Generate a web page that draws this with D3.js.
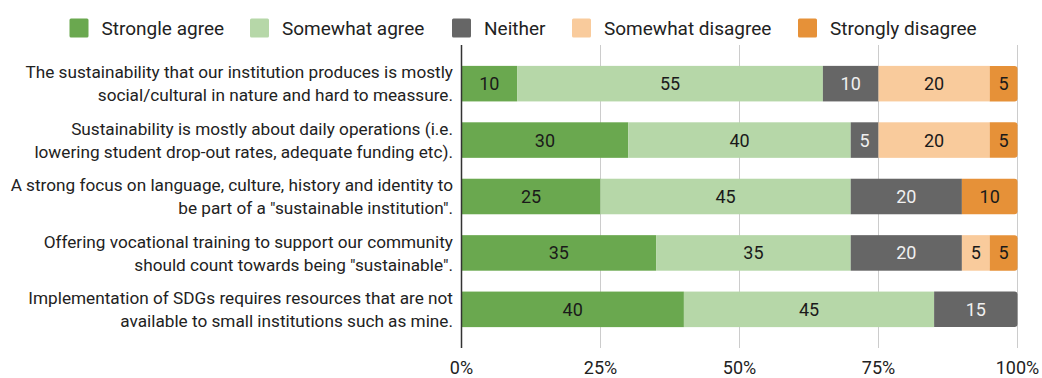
<!DOCTYPE html>
<html>
<head>
<meta charset="utf-8">
<script src="https://cdn.jsdelivr.net/npm/d3@7"></script>
<style>
  html, body { margin: 0; padding: 0; background: #fff; }
  svg { display: block; font-family: Roboto, "Noto Sans", sans-serif; }
</style>
</head>
<body>
<svg id="chart" width="1042" height="378"></svg>
<script>
// Survey statements (two-line labels)
const statements = [
  ["The sustainability that our institution produces is mostly", "social/cultural in nature and hard to meassure."],
  ["Sustainability is mostly about daily operations (i.e.", "lowering student drop-out rates, adequate funding etc)."],
  ["A strong focus on language, culture, history and identity to", "be part of a \"sustainable institution\"."],
  ["Offering vocational training to support our community", "should count towards being \"sustainable\"."],
  ["Implementation of SDGs requires resources that are not", "available to small institutions such as mine."]
];

const responses = ["Strongle agree", "Somewhat agree", "Neither", "Somewhat disagree", "Strongly disagree"];

// Percent of respondents per answer, one array per response option
const stronglyAgree    = [10, 30, 25, 35, 40];
const somewhatAgree    = [55, 40, 45, 35, 45];
const neither          = [10,  5, 20, 20, 15];
const somewhatDisagree = [20, 20,  0,  5,  0];
const stronglyDisagree = [ 5,  5, 10,  5,  0];

const tickValues = [0, 25, 50, 75, 100];
const tickLabels = ["0%", "25%", "50%", "75%", "100%"];

const colors = ["#6aa84f", "#b6d7a8", "#666666", "#f9cb9c", "#e69138"];
const labelColors = ["#1a1a1a", "#1a1a1a", "#f0f0f0", "#1a1a1a", "#1a1a1a"];

const rows = statements.map((s, i) => ({
  idx: i,
  label: s,
  values: [stronglyAgree[i], somewhatAgree[i], neither[i], somewhatDisagree[i], stronglyDisagree[i]]
}));

const svg = d3.select("#chart");
const plot = { left: 461.5, right: 1017.5, top: 45, bottom: 348 };

const x = d3.scaleLinear().domain([0, 100]).range([plot.left, plot.right]);
const y = d3.scaleBand().domain(d3.range(rows.length)).range([plot.top, plot.bottom]).padding(0.37);

// Vertical gridlines
svg.append("g")
  .selectAll("line")
  .data(tickValues.filter(d => d > 0))
  .join("line")
  .attr("x1", d => x(d)).attr("x2", d => x(d))
  .attr("y1", plot.top).attr("y2", plot.bottom)
  .attr("stroke", "#cccccc").attr("stroke-width", 1);

// Stacked segments
const segs = [];
rows.forEach(r => {
  let acc = 0;
  const lastNonZero = r.values.reduce((m, v, k) => v > 0 ? k : m, 0);
  r.values.forEach((v, k) => {
    if (v > 0) segs.push({ row: r.idx, k, v, x0: acc, x1: acc + v, last: k === lastNonZero });
    acc += v;
  });
});

const bars = svg.append("g");
segs.forEach(s => {
  const x0 = x(s.x0), x1 = x(s.x1), y0 = y(s.row), h = y.bandwidth();
  if (s.last) {
    const r = 3;
    const p = `M${x0},${y0} H${x1 - r} Q${x1},${y0} ${x1},${y0 + r} V${y0 + h - r} Q${x1},${y0 + h} ${x1 - r},${y0 + h} H${x0} Z`;
    bars.append("path").attr("d", p).attr("fill", colors[s.k]);
  } else {
    bars.append("rect").attr("x", x0).attr("y", y0).attr("width", x1 - x0).attr("height", h).attr("fill", colors[s.k]);
  }
  bars.append("text")
    .attr("x", (x0 + x1) / 2)
    .attr("y", y0 + h / 2)
    .attr("dy", "0.36em")
    .attr("text-anchor", "middle")
    .attr("font-size", 18)
    .attr("fill", labelColors[s.k])
    .text(s.v);
});

// Baseline axis at 0%
svg.append("line")
  .attr("x1", plot.left).attr("x2", plot.left)
  .attr("y1", plot.top).attr("y2", plot.bottom)
  .attr("stroke", "#333333").attr("stroke-width", 1.5);

// Category labels
const cat = svg.append("g");
rows.forEach(r => {
  const cy = y(r.idx) + y.bandwidth() / 2;
  r.label.forEach((line, j) => {
    cat.append("text")
      .attr("x", 453)
      .attr("y", cy + (j === 0 ? -11.5 : 11.5))
      .attr("dy", "0.36em")
      .attr("text-anchor", "end")
      .attr("font-size", 17.2)
      .attr("fill", "#222222")
      .text(line);
  });
});

// X axis tick labels
svg.append("g")
  .selectAll("text")
  .data(tickValues)
  .join("text")
  .attr("x", d => x(d))
  .attr("y", 373.5)
  .attr("text-anchor", "middle")
  .attr("font-size", 18)
  .attr("fill", "#222222")
  .text((d, i) => tickLabels[i]);

// Legend
const legendX = [69.5, 250, 452, 572, 798];
const legend = svg.append("g");
responses.forEach((name, i) => {
  legend.append("rect")
    .attr("x", legendX[i]).attr("y", 18.5)
    .attr("width", 19).attr("height", 19)
    .attr("rx", 1.5)
    .attr("fill", colors[i]);
  legend.append("text")
    .attr("x", legendX[i] + 32)
    .attr("y", 28)
    .attr("dy", "0.36em")
    .attr("font-size", 19)
    .attr("fill", "#222222")
    .text(name);
});
</script>
</body>
</html>
